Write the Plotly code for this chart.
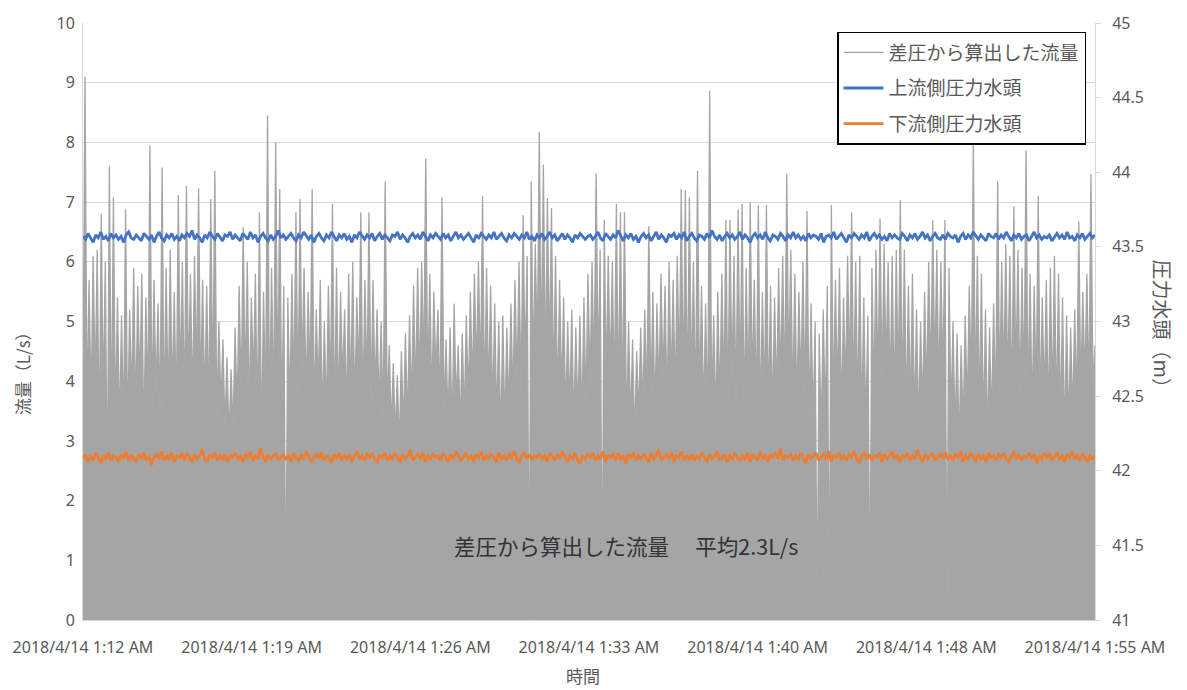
import pandas as pd
import plotly.graph_objects as go

# ---- data -----------------------------------------------------------------
t_start = "2018-04-14 01:12:00"
t_end = "2018-04-14 01:55:12"

tick_times = ["2018-04-14 01:12:00", "2018-04-14 01:19:12", "2018-04-14 01:26:24",
              "2018-04-14 01:33:36", "2018-04-14 01:40:48", "2018-04-14 01:48:00",
              "2018-04-14 01:55:12"]
tick_labels = ["2018/4/14 1:12 AM", "2018/4/14 1:19 AM", "2018/4/14 1:26 AM",
               "2018/4/14 1:33 AM", "2018/4/14 1:40 AM", "2018/4/14 1:48 AM",
               "2018/4/14 1:55 AM"]

# flow computed from differential pressure (L/s)
flow = [
    3.9, 9.1, 3.5, 5.7, 3.6, 6.1, 3.9, 6.2, 3.0, 6.8, 3.7, 6.0, 1.95, 7.6, 3.1, 7.08, 3.3, 5.4, 3.2, 5.1,
    3.2, 6.88, 3.1, 5.2, 3.7, 5.9, 3.4, 5.6, 3.9, 5.8, 3.0, 5.4, 3.6, 7.95, 3.5, 5.7, 3.8, 5.3, 3.4, 7.58,
    3.3, 5.9, 3.5, 6.2, 3.7, 5.5, 3.4, 7.12, 3.9, 6.0, 3.5, 7.27, 4.0, 5.8, 3.6, 6.1, 4.1, 7.23, 3.8, 5.7,
    3.6, 5.6, 3.4, 7.05, 3.8, 7.53, 3.3, 5.0, 3.6, 4.7, 3.2, 4.4, 3.0, 4.2, 3.2, 4.9, 3.5, 5.6, 3.7, 6.58,
    3.9, 6.0, 3.5, 5.4, 4.0, 5.8, 3.3, 6.83, 2.9, 5.5, 3.6, 8.45, 3.4, 5.9, 3.5, 8.0, 3.8, 7.22, 3.4, 5.6,
    0.0, 5.4, 3.5, 5.8, 3.9, 6.83, 3.6, 7.05, 4.1, 5.9, 3.7, 5.5, 4.0, 7.22, 3.4, 5.2, 3.8, 5.7, 3.3, 5.0,
    3.4, 5.6, 3.8, 6.97, 3.3, 5.9, 3.5, 5.5, 4.0, 5.2, 3.4, 5.8, 3.7, 6.0, 3.5, 5.4, 4.1, 6.83, 3.4, 5.7,
    3.9, 6.83, 3.6, 5.7, 3.8, 5.2, 3.5, 5.0, 3.3, 7.35, 3.5, 4.6, 3.2, 4.3, 3.1, 4.1, 2.9, 4.5, 3.2, 4.8,
    3.3, 5.1, 3.6, 5.6, 3.8, 5.9, 4.0, 6.0, 4.2, 7.73, 3.9, 5.8, 3.6, 5.5, 4.1, 5.2, 3.5, 7.08, 3.4, 4.7,
    3.3, 4.9, 3.1, 5.3, 3.6, 4.6, 3.2, 4.8, 3.4, 5.1, 3.7, 5.5, 3.9, 5.8, 4.2, 6.0, 4.0, 7.1, 3.6, 5.9,
    3.8, 5.6, 3.5, 5.3, 3.3, 5.0, 3.0, 5.1, 3.2, 4.9, 3.5, 5.3, 3.7, 5.7, 4.0, 6.0, 3.8, 6.78, 4.3, 6.1,
    0.0, 7.35, 4.2, 6.3, 4.5, 8.18, 4.3, 7.63, 4.1, 7.07, 4.4, 6.9, 3.9, 6.1, 3.6, 5.7, 3.8, 5.4, 3.4, 5.0,
    3.5, 5.2, 3.2, 4.9, 3.4, 5.1, 3.3, 5.4, 3.6, 5.8, 3.9, 6.0, 4.1, 7.48, 4.2, 6.2, 0.0, 6.7, 4.0, 6.1,
    4.1, 6.0, 3.8, 6.97, 3.6, 6.83, 3.5, 6.83, 3.1, 5.0, 3.3, 4.7, 3.0, 4.5, 3.4, 4.9, 3.5, 5.2, 3.7, 6.6,
    3.6, 5.5, 3.4, 5.3, 3.8, 5.8, 4.0, 5.6, 3.5, 6.0, 3.9, 5.7, 3.7, 6.1, 4.1, 7.22, 3.8, 7.2, 3.6, 7.08,
    3.9, 6.0, 3.5, 7.53, 3.7, 5.6, 3.4, 5.3, 3.2, 8.87, 3.5, 5.1, 3.3, 5.5, 3.6, 5.8, 3.8, 6.7, 3.5, 6.7,
    4.0, 6.1, 3.6, 6.87, 3.8, 6.97, 3.4, 5.9, 3.7, 7.0, 3.9, 5.7, 3.5, 6.95, 3.3, 5.5, 3.6, 6.95, 3.4, 5.6,
    3.4, 5.4, 3.7, 5.9, 4.0, 6.1, 3.8, 7.47, 4.1, 6.2, 3.6, 5.8, 3.5, 5.5, 3.9, 6.0, 3.7, 6.85, 3.3, 5.3,
    3.3, 5.0, 0.0, 4.8, 3.1, 5.2, 3.4, 5.6, 0.0, 6.95, 3.6, 5.7, 3.8, 5.9, 3.4, 5.4, 3.9, 6.1, 4.1, 6.83,
    3.7, 6.0, 3.5, 6.1, 3.3, 5.4, 3.2, 5.1, 0.0, 5.9, 3.8, 6.2, 4.0, 6.72, 3.9, 6.3, 4.2, 6.0, 3.8, 6.1,
    3.6, 6.2, 3.9, 7.03, 3.7, 6.2, 3.4, 5.6, 3.5, 5.8, 3.3, 5.2, 3.2, 5.0, 3.5, 5.5, 3.8, 6.0, 4.0, 6.7,
    4.1, 6.2, 3.8, 6.0, 4.0, 6.7, 0.0, 5.9, 3.4, 5.0, 3.1, 4.8, 2.9, 4.6, 3.2, 5.1, 3.5, 5.6, 3.9, 8.0,
    3.7, 6.1, 3.5, 5.8, 3.2, 5.2, 3.0, 4.9, 3.3, 5.3, 3.5, 7.35, 3.8, 6.0, 4.1, 6.3, 3.9, 6.1, 3.6, 6.93,
    4.0, 6.2, 3.7, 5.9, 3.9, 7.87, 3.6, 5.8, 3.4, 5.6, 3.8, 7.1, 3.5, 5.4, 3.7, 5.7, 3.3, 5.9, 3.6, 6.1,
    3.4, 5.8, 3.3, 5.4, 3.0, 5.1, 3.2, 4.9, 3.4, 5.2, 3.6, 6.68, 3.8, 5.5, 4.0, 5.8, 3.7, 7.47, 3.9, 4.6,
]

# upstream pressure head (m)
upstream = [
    43.57, 43.55, 43.59, 43.56, 43.53, 43.58, 43.56, 43.60, 43.55, 43.57, 43.54, 43.59, 43.56, 43.58, 43.55, 43.57, 43.53, 43.58, 43.60, 43.56,
    43.55, 43.58, 43.56, 43.54, 43.59, 43.57, 43.55, 43.58, 43.53, 43.57, 43.60, 43.56, 43.54, 43.58, 43.56, 43.59, 43.55, 43.57, 43.54, 43.58,
    43.56, 43.59, 43.57, 43.61, 43.55, 43.58, 43.56, 43.53, 43.58, 43.56, 43.60, 43.57, 43.55, 43.59, 43.56, 43.54, 43.58, 43.57, 43.60, 43.55,
    43.58, 43.56, 43.54, 43.59, 43.57, 43.55, 43.60, 43.56, 43.58, 43.53, 43.57, 43.59, 43.56, 43.54, 43.58, 43.55, 43.57, 43.61, 43.56, 43.58,
    43.55, 43.57, 43.59, 43.56, 43.54, 43.58, 43.56, 43.60, 43.57, 43.55, 43.58, 43.53, 43.57, 43.59, 43.56, 43.54, 43.58, 43.56, 43.60, 43.57,
    43.54, 43.58, 43.56, 43.59, 43.55, 43.57, 43.53, 43.58, 43.56, 43.60, 43.57, 43.55, 43.58, 43.56, 43.59, 43.54, 43.57, 43.59, 43.55, 43.58,
    43.56, 43.54, 43.58, 43.57, 43.60, 43.55, 43.58, 43.56, 43.53, 43.57, 43.59, 43.56, 43.58, 43.55, 43.60, 43.57, 43.54, 43.58, 43.56, 43.59,
    43.57, 43.55, 43.59, 43.56, 43.58, 43.54, 43.57, 43.60, 43.56, 43.58, 43.55, 43.57, 43.59, 43.56, 43.53, 43.58, 43.56, 43.59, 43.57, 43.55,
    43.58, 43.56, 43.60, 43.55, 43.57, 43.59, 43.56, 43.54, 43.58, 43.56, 43.59, 43.57, 43.55, 43.58, 43.56, 43.60, 43.55, 43.57, 43.54, 43.58,
    43.56, 43.59, 43.55, 43.57, 43.60, 43.56, 43.58, 43.54, 43.57, 43.59, 43.55, 43.58, 43.56, 43.53, 43.58, 43.56, 43.59, 43.57, 43.55, 43.57,
    43.58, 43.55, 43.57, 43.60, 43.56, 43.54, 43.59, 43.57, 43.55, 43.58, 43.56, 43.61, 43.57, 43.54, 43.58, 43.56, 43.59, 43.55, 43.57, 43.53,
    43.57, 43.59, 43.56, 43.58, 43.54, 43.57, 43.60, 43.55, 43.58, 43.56, 43.53, 43.58, 43.57, 43.59, 43.55, 43.58, 43.56, 43.60, 43.54, 43.57,
    43.59, 43.56, 43.54, 43.58, 43.57, 43.55, 43.59, 43.56, 43.61, 43.57, 43.55, 43.58, 43.54, 43.57, 43.59, 43.56, 43.58, 43.55, 43.57, 43.60,
    43.55, 43.58, 43.56, 43.53, 43.57, 43.59, 43.56, 43.58, 43.55, 43.60, 43.56, 43.54, 43.58, 43.57, 43.55, 43.59, 43.57, 43.54, 43.58, 43.56,
    43.60, 43.56, 43.58, 43.55, 43.57, 43.54, 43.59, 43.56, 43.58, 43.57, 43.55, 43.59, 43.53, 43.57, 43.58, 43.56, 43.60, 43.55, 43.57, 43.59,
    43.56, 43.53, 43.58, 43.56, 43.59, 43.57, 43.55, 43.58, 43.56, 43.60, 43.54, 43.57, 43.59, 43.56, 43.58, 43.55, 43.57, 43.54, 43.59, 43.56,
    43.58, 43.56, 43.55, 43.59, 43.57, 43.54, 43.58, 43.56, 43.59, 43.55, 43.57, 43.60, 43.56, 43.58, 43.54, 43.57, 43.59, 43.56, 43.55, 43.58,
    43.55, 43.59, 43.57, 43.56, 43.58, 43.53, 43.57, 43.59, 43.55, 43.58, 43.56, 43.60, 43.57, 43.55, 43.58, 43.56, 43.54, 43.59, 43.57, 43.56,
    43.59, 43.55, 43.58, 43.56, 43.60, 43.57, 43.54, 43.58, 43.56, 43.59, 43.55, 43.57, 43.58, 43.54, 43.57, 43.60, 43.56, 43.58, 43.55, 43.57,
    43.56, 43.58, 43.54, 43.57, 43.59, 43.56, 43.58, 43.55, 43.60, 43.56, 43.57, 43.54, 43.58, 43.56, 43.59, 43.55, 43.57, 43.59, 43.56, 43.58,
]

# downstream pressure head (m)
downstream = [
    42.08, 42.11, 42.06, 42.10, 42.07, 42.12, 42.09, 42.05, 42.10, 42.08, 42.12, 42.07, 42.10, 42.09, 42.06, 42.11, 42.08, 42.13, 42.07, 42.10,
    42.09, 42.06, 42.11, 42.08, 42.12, 42.07, 42.10, 42.04, 42.09, 42.11, 42.08, 42.13, 42.07, 42.10, 42.08, 42.12, 42.06, 42.10, 42.09, 42.11,
    42.07, 42.12, 42.09, 42.06, 42.11, 42.08, 42.10, 42.14, 42.08, 42.06, 42.11, 42.09, 42.12, 42.07, 42.10, 42.08, 42.11, 42.06, 42.10, 42.09,
    42.12, 42.08, 42.10, 42.06, 42.11, 42.09, 42.13, 42.07, 42.10, 42.08, 42.15, 42.09, 42.06, 42.11, 42.08, 42.10, 42.12, 42.07, 42.09, 42.11,
    42.08, 42.10, 42.06, 42.12, 42.09, 42.07, 42.11, 42.08, 42.13, 42.10, 42.06, 42.09, 42.11, 42.08, 42.12, 42.07, 42.10, 42.09, 42.05, 42.11,
    42.09, 42.12, 42.07, 42.10, 42.08, 42.11, 42.06, 42.10, 42.13, 42.08, 42.10, 42.07, 42.11, 42.09, 42.12, 42.08, 42.06, 42.10, 42.09, 42.12,
    42.07, 42.10, 42.08, 42.12, 42.09, 42.06, 42.11, 42.08, 42.10, 42.14, 42.07, 42.09, 42.11, 42.08, 42.12, 42.06, 42.10, 42.08, 42.11, 42.09,
    42.10, 42.07, 42.12, 42.09, 42.06, 42.11, 42.08, 42.13, 42.10, 42.07, 42.09, 42.12, 42.08, 42.10, 42.06, 42.11, 42.09, 42.13, 42.07, 42.10,
    42.08, 42.11, 42.09, 42.06, 42.12, 42.08, 42.10, 42.07, 42.11, 42.09, 42.13, 42.08, 42.06, 42.10, 42.12, 42.08, 42.11, 42.07, 42.10, 42.09,
    42.11, 42.08, 42.10, 42.06, 42.12, 42.09, 42.07, 42.11, 42.08, 42.13, 42.09, 42.06, 42.10, 42.08, 42.12, 42.07, 42.05, 42.10, 42.08, 42.11,
    42.09, 42.12, 42.07, 42.10, 42.08, 42.13, 42.06, 42.10, 42.09, 42.11, 42.07, 42.12, 42.08, 42.10, 42.05, 42.11, 42.09, 42.12, 42.07, 42.10,
    42.08, 42.11, 42.09, 42.06, 42.12, 42.08, 42.10, 42.14, 42.07, 42.09, 42.11, 42.08, 42.12, 42.06, 42.10, 42.09, 42.13, 42.07, 42.10, 42.08,
    42.11, 42.07, 42.10, 42.08, 42.12, 42.09, 42.06, 42.11, 42.08, 42.10, 42.13, 42.07, 42.09, 42.11, 42.06, 42.10, 42.08, 42.12, 42.09, 42.07,
    42.10, 42.08, 42.12, 42.06, 42.11, 42.09, 42.07, 42.13, 42.08, 42.10, 42.06, 42.11, 42.09, 42.12, 42.08, 42.15, 42.07, 42.10, 42.09, 42.11,
    42.07, 42.10, 42.08, 42.12, 42.09, 42.05, 42.11, 42.08, 42.10, 42.12, 42.07, 42.09, 42.11, 42.08, 42.13, 42.06, 42.10, 42.09, 42.12, 42.08,
    42.10, 42.07, 42.11, 42.09, 42.13, 42.08, 42.06, 42.10, 42.12, 42.08, 42.11, 42.07, 42.10, 42.09, 42.12, 42.06, 42.11, 42.08, 42.10, 42.13,
    42.08, 42.11, 42.06, 42.10, 42.09, 42.12, 42.07, 42.10, 42.08, 42.14, 42.09, 42.06, 42.11, 42.08, 42.10, 42.12, 42.07, 42.09, 42.11, 42.08,
    42.12, 42.08, 42.10, 42.07, 42.11, 42.09, 42.13, 42.06, 42.10, 42.08, 42.12, 42.09, 42.07, 42.11, 42.08, 42.10, 42.06, 42.12, 42.09, 42.10,
    42.07, 42.11, 42.09, 42.12, 42.08, 42.06, 42.10, 42.13, 42.08, 42.11, 42.07, 42.10, 42.09, 42.12, 42.08, 42.11, 42.05, 42.10, 42.08, 42.12,
    42.09, 42.11, 42.07, 42.10, 42.12, 42.08, 42.10, 42.06, 42.11, 42.09, 42.13, 42.08, 42.10, 42.07, 42.11, 42.09, 42.06, 42.10, 42.08, 42.10,
]

flow_time = pd.date_range(t_start, t_end, periods=len(flow))
head_time = pd.date_range(t_start, t_end, periods=len(upstream))

# ---- styling ----------------------------------------------------------------
W, H = 1187, 690
L, R, T, B = 83, 92, 20, 70
PW, PH = W - L - R, H - T - B

TXT = "#595959"
GRID = "#d9d9d9"
JP = "Noto Sans CJK JP"
LAT = "Noto Sans, Noto Sans CJK JP"


def px_x(px):
    return (px - L) / PW


def px_y(py):
    return (H - B - py) / PH


fig = go.Figure()

# dense flow record: area under the trace, then the trace itself (legend entry)
fig.add_trace(go.Scatter(
    x=flow_time, y=flow, mode="lines", showlegend=False, hoverinfo="skip",
    line=dict(color="#a5a5a5", width=0), fill="tozeroy", fillcolor="#a5a5a5",
    yaxis="y",
))
fig.add_trace(go.Scatter(
    x=flow_time, y=flow, name="差圧から算出した流量", mode="lines",
    line=dict(color="#a5a5a5", width=1.3), legendgroup="g1", yaxis="y",
))
fig.add_trace(go.Scatter(
    x=head_time, y=upstream, name="上流側圧力水頭", mode="lines",
    line=dict(color="#4472c4", width=2.8), legendgroup="g2", yaxis="y2",
))
fig.add_trace(go.Scatter(
    x=head_time, y=downstream, name="下流側圧力水頭", mode="lines",
    line=dict(color="#ed7d31", width=2.8), legendgroup="g3", yaxis="y2",
))

fig.update_layout(
    width=W, height=H,
    margin=dict(l=L, r=R, t=T, b=B, pad=0),
    paper_bgcolor="white", plot_bgcolor="white",
    font=dict(family=LAT, color=TXT, size=16),
    showlegend=True,
    legend=dict(
        x=px_x(837), y=px_y(29), xanchor="left", yanchor="top",
        bgcolor="white", bordercolor="black", borderwidth=1.5,
        font=dict(family=JP, size=19, color=TXT),
        tracegroupgap=8, traceorder="grouped",
        itemwidth=40,
    ),
    xaxis=dict(
        type="date", range=[t_start, t_end],
        tickmode="array", tickvals=tick_times, ticktext=tick_labels,
        showgrid=False, zeroline=False,
        showline=True, linecolor=GRID, linewidth=1,
        ticks="", ticklabelstandoff=13,
        tickfont=dict(family=LAT, size=16, color=TXT),
    ),
    yaxis=dict(
        range=[0, 10], dtick=1, tick0=0,
        showgrid=True, gridcolor=GRID, gridwidth=1,
        zeroline=False, showline=True, linecolor=GRID,
        ticks="", ticklabelstandoff=4,
        tickfont=dict(family=LAT, size=16, color=TXT),
    ),
    yaxis2=dict(
        range=[41, 45], dtick=0.5, tick0=41,
        overlaying="y", side="right",
        showgrid=False, zeroline=False,
        showline=True, linecolor=GRID,
        ticks="outside", ticklen=5, tickcolor=GRID,
        ticklabelstandoff=8,
        tickfont=dict(family=LAT, size=16, color=TXT),
    ),
    annotations=[
        dict(text="流量（L/s）", x=px_x(22), y=px_y(368), xref="paper", yref="paper",
             textangle=-90, showarrow=False, xanchor="center", yanchor="middle",
             font=dict(family=JP, size=17, color=TXT)),
        dict(text="圧力水頭（m）", x=px_x(1163), y=px_y(327), xref="paper", yref="paper",
             textangle=90, showarrow=False, xanchor="center", yanchor="middle",
             font=dict(family=JP, size=20, color=TXT)),
        dict(text="時間", x=px_x(583), y=px_y(676), xref="paper", yref="paper",
             showarrow=False, xanchor="center", yanchor="middle",
             font=dict(family=JP, size=17, color=TXT)),
        dict(text="差圧から算出した流量　 平均2.3L/s", x=px_x(626), y=px_y(545),
             xref="paper", yref="paper", showarrow=False,
             xanchor="center", yanchor="middle",
             font=dict(family=JP, size=21.5, color="#333333")),
    ],
)

fig.write_html("out.html")
